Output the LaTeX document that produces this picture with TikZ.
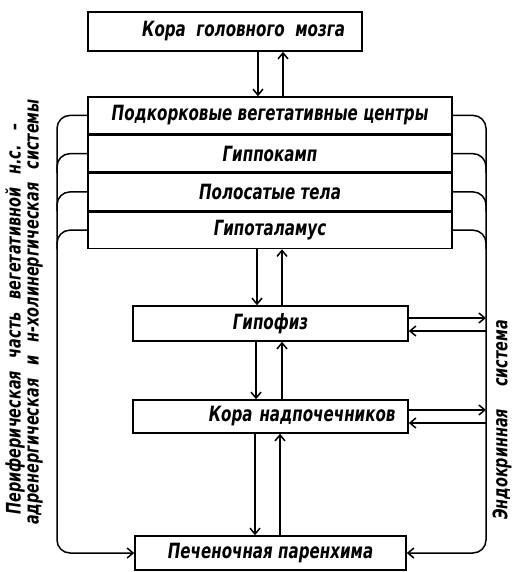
\documentclass[tikz,border=0pt]{standalone}
\usepackage{fontspec}
\setmainfont{DejaVu Sans}[FakeStretch=0.72]
\usetikzlibrary{arrows.meta,positioning}
\newcommand\sidefont{\bfseries\itshape\fontsize{20}{20}\selectfont\spaceskip=13pt plus 2pt\relax}

\begin{document}
\begin{tikzpicture}[x=1pt,y=-1pt,line width=1.5pt,
  box/.style={draw,inner sep=0pt,font=\bfseries\itshape\fontsize{21}{21}\selectfont},
  row/.style={box,minimum width=364pt,minimum height=36.75pt},
  side/.style={rotate=90,font=\sidefont},
  >={Straight Barb[length=6pt,width=10pt]}]
  \useasboundingbox (0,0) rectangle (514,572);
  \node[box,minimum width=274pt,minimum height=39pt,text width=240pt,align=right] (kora) at (225,31.5) {Кора\enspace головного\enspace мозга};
  \node[row] (pod) at (270,115.4) {Подкорковые вегетативные центры};
  \node[row,below=0pt of pod] (gip) {Гиппокамп};
  \node[row,below=0pt of gip] (pol) {Полосатые тела};
  \node[row,below=0pt of pol] (hyp) {Гипоталамус};
  \node[box,minimum width=275pt,minimum height=35pt] (fiz) at (270.5,323.5) {Гипофиз};
  \node[box,minimum width=275pt,minimum height=33pt,text width=250pt,align=right] (nad) at (270.5,416.5) {Кора надпочечников\hspace*{8pt}};
  \node[box,minimum width=271pt,minimum height=34pt] (pech) at (270.5,553) {Печеночная паренхима};
  \coordinate (ll) at (57,0);
  \coordinate (rl) at (486,0);
  \foreach \a/\b/\x/\y in {kora/pod/258/283, hyp/fiz/257/282, fiz/nad/256/282, nad/pech/255/280} {
    \draw[->] (\x,0 |- \a.south) -- (\x,0 |- \b.north);
    \draw[->] (\y,0 |- \b.north) -- (\y,0 |- \a.south);
  }
  \draw[->,rounded corners=13pt] (pod.west) -| (ll |- pech.west) -- (pech.west);
  \draw[->,rounded corners=13pt] (pod.east) -| (rl |- pech.east) -- (pech.east);
  \foreach \n in {gip,pol,hyp} {
    \draw[rounded corners=13pt] (\n.west) -| (ll |- \n.south);
    \draw[rounded corners=13pt] (\n.east) -| (rl |- \n.south);
  }
  \draw[->] (fiz.east |- 0,318) -- (rl |- 0,318);
  \draw[->] (rl |- 0,331) -- (fiz.east |- 0,331);
  \draw[->] (nad.east |- 0,410) -- (rl |- 0,410);
  \draw[->] (rl |- 0,423) -- (nad.east |- 0,423);
  \node[side] (per) at (15,319) {Периферическая часть вегетативной н.с. –};
  \node[side] (sys) at (35,312) {адренергическая и н-холинергическая системы};
  \node[side] (endo) at (502,420) {Эндокринная\hspace{22pt}система};
\end{tikzpicture}
\end{document}
